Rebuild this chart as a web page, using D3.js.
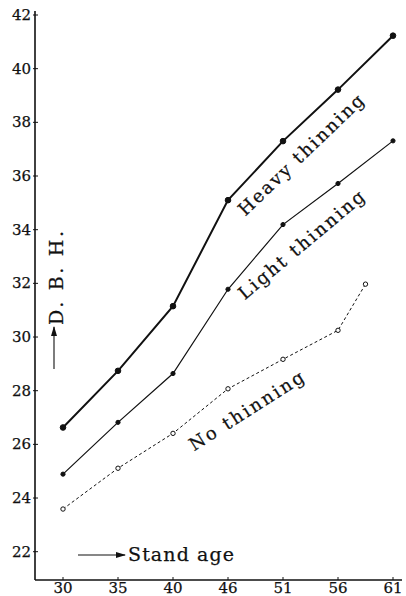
<!DOCTYPE html>
<html>
<head>
<meta charset="utf-8">
<script src="https://cdn.jsdelivr.net/npm/d3@7"></script>
<style>
  body { margin: 0; background: #fff; }
  text { font-family: "DejaVu Serif", "Liberation Serif", serif; fill: #111; stroke: #111; stroke-width: 0.25px; }
</style>
</head>
<body>
<div id="chart"></div>
<script>
// stand age (x) and D.B.H. (y)
var ages = [30, 35, 40, 46, 51, 56, 61];
var yTicks = [22, 24, 26, 28, 30, 32, 34, 36, 38, 40, 42];

var heavyAge = [30, 35, 40, 46, 51, 56, 61];
var heavyDbh = [26.63, 28.74, 31.15, 35.1, 37.3, 39.22, 41.23];

var lightAge = [30, 35, 40, 46, 51, 56, 61];
var lightDbh = [24.89, 26.82, 28.64, 31.78, 34.19, 35.72, 37.31];

var noAge = [30, 35, 40, 46, 51, 56, 58.5];
var noDbh = [23.59, 25.11, 26.41, 28.07, 29.17, 30.25, 31.97];

var width = 406, height = 596;
var axisX = 35, axisY = 580;

var svg = d3.select('#chart').append('svg')
  .attr('width', width)
  .attr('height', height);

// ages are spaced evenly on the printed axis (46 sits where 45 would)
var x = d3.scaleLinear()
  .domain(ages)
  .range(ages.map(function(d, i) { return 63 + i * 55; }));

var y = d3.scaleLinear()
  .domain([22, 42])
  .range([551.7, 15]);

svg.append('defs').append('marker')
  .attr('id', 'arrow')
  .attr('viewBox', '0 0 10 6')
  .attr('refX', 9).attr('refY', 3)
  .attr('markerWidth', 10).attr('markerHeight', 6)
  .attr('markerUnits', 'userSpaceOnUse')
  .attr('orient', 'auto')
  .append('path')
  .attr('d', 'M0,0 L10,3 L0,6 Z')
  .attr('fill', '#111');

// y axis
var yAxis = svg.append('g');
yAxis.append('line')
  .attr('x1', axisX).attr('x2', axisX)
  .attr('y1', 11).attr('y2', axisY)
  .attr('stroke', '#111').attr('stroke-width', 1.6);
yAxis.selectAll('.tick')
  .data(yTicks)
  .enter().append('line')
    .attr('x1', axisX - 2).attr('x2', axisX + 3)
    .attr('y1', function(d) { return y(d); })
    .attr('y2', function(d) { return y(d); })
    .attr('stroke', '#111').attr('stroke-width', 1);
yAxis.selectAll('text')
  .data(yTicks)
  .enter().append('text')
    .attr('x', 31)
    .attr('y', function(d) { return y(d) + 5; })
    .attr('text-anchor', 'end')
    .style('font-size', '15px')
    .text(function(d) { return d; });

// x axis
var xAxis = svg.append('g');
xAxis.append('line')
  .attr('x1', axisX).attr('x2', 402)
  .attr('y1', axisY).attr('y2', axisY)
  .attr('stroke', '#111').attr('stroke-width', 1.6);
xAxis.selectAll('.tick')
  .data(ages)
  .enter().append('line')
    .attr('x1', function(d) { return x(d); })
    .attr('x2', function(d) { return x(d); })
    .attr('y1', axisY - 3).attr('y2', axisY)
    .attr('stroke', '#111').attr('stroke-width', 1);
xAxis.selectAll('text')
  .data(ages)
  .enter().append('text')
    .attr('x', function(d) { return x(d); })
    .attr('y', 593)
    .attr('text-anchor', 'middle')
    .style('font-size', '15px')
    .text(function(d) { return d; });

// series
var line = d3.line()
  .x(function(d) { return x(d[0]); })
  .y(function(d) { return y(d[1]); });

var series = [
  { name: 'heavy', pts: d3.zip(heavyAge, heavyDbh), sw: 2, dash: null, r: 2.8, fill: '#111' },
  { name: 'light', pts: d3.zip(lightAge, lightDbh), sw: 1.2, dash: null, r: 2.1, fill: '#111' },
  { name: 'none', pts: d3.zip(noAge, noDbh), sw: 1, dash: '3,2.5', r: 2.2, fill: '#fff' }
];

series.forEach(function(s) {
  svg.append('path')
    .datum(s.pts)
    .attr('d', line)
    .attr('fill', 'none')
    .attr('stroke', '#111')
    .attr('stroke-width', s.sw)
    .attr('stroke-dasharray', s.dash);

  svg.selectAll('circle.' + s.name)
    .data(s.pts)
    .enter().append('circle')
      .attr('class', s.name)
      .attr('cx', function(d) { return x(d[0]); })
      .attr('cy', function(d) { return y(d[1]); })
      .attr('r', s.r)
      .attr('fill', s.fill)
      .attr('stroke', '#111')
      .attr('stroke-width', 1);
});

// curve labels, set along the lines
var labels = [
  { text: 'Heavy thinning', cx: 301, cy: 155, angle: -43.7, len: 166 },
  { text: 'Light thinning', cx: 301.5, cy: 245, angle: -40, len: 158 },
  { text: 'No thinning', cx: 246.5, cy: 411, angle: -32.5, len: 132 }
];
svg.selectAll('text.curve')
  .data(labels)
  .enter().append('text')
    .attr('class', 'curve')
    .attr('transform', function(d) { return 'translate(' + d.cx + ',' + d.cy + ') rotate(' + d.angle + ')'; })
    .attr('x', -0).attr('y', 6)
    .attr('text-anchor', 'middle')
    .attr('textLength', function(d) { return d.len; })
    .attr('lengthAdjust', 'spacing')
    .style('font-size', '18px')
    .text(function(d) { return d.text; });

// axis titles with arrows
svg.append('text')
  .attr('transform', 'translate(63,278) rotate(-90)')
  .attr('text-anchor', 'middle')
  .attr('textLength', 94)
  .attr('lengthAdjust', 'spacing')
  .style('font-size', '19px')
  .text('D. B. H.');
svg.append('line')
  .attr('x1', 54).attr('y1', 369)
  .attr('x2', 54).attr('y2', 327)
  .attr('stroke', '#111').attr('stroke-width', 1.1)
  .attr('marker-end', 'url(#arrow)');

svg.append('line')
  .attr('x1', 78).attr('y1', 555)
  .attr('x2', 125).attr('y2', 555)
  .attr('stroke', '#111').attr('stroke-width', 1.1)
  .attr('marker-end', 'url(#arrow)');
svg.append('text')
  .attr('x', 128).attr('y', 561)
  .attr('textLength', 106)
  .attr('lengthAdjust', 'spacing')
  .style('font-size', '19px')
  .text('Stand age');
</script>
</body>
</html>
